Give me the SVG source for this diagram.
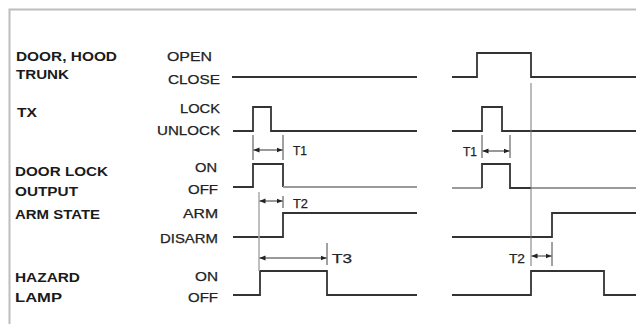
<svg xmlns="http://www.w3.org/2000/svg" width="636" height="324" viewBox="0 0 636 324">
<style>
.bg{fill:#ffffff}
.frame{fill:none;stroke:#bdbdbd;stroke-width:2}
.sig{fill:none;stroke:#333;stroke-width:1.8;stroke-linejoin:miter}
.lite{fill:none;stroke:#9a9a9a;stroke-width:2}
.guide{fill:none;stroke:#777;stroke-width:1}
.guide2{fill:none;stroke:#aaa;stroke-width:1.5}
.tick{fill:none;stroke:#444;stroke-width:1}
.dim{fill:none;stroke:#333;stroke-width:1;marker-start:url(#ah);marker-end:url(#ah)}
.name{font-family:"Liberation Sans",Arial,sans-serif;font-weight:bold;font-size:13.5px;fill:#1a1a1a}
.state{font-family:"Liberation Sans",Arial,sans-serif;font-size:13px;fill:#222;stroke:#222;stroke-width:0.25}
.t{font-family:"Liberation Sans",Arial,sans-serif;font-size:13px;fill:#222;stroke:#222;stroke-width:0.25}
</style>
<defs>
<marker id="ah" viewBox="0 0 6 6" refX="6" refY="3" markerWidth="6" markerHeight="6" markerUnits="userSpaceOnUse" orient="auto-start-reverse">
<path d="M0 0.6 L6 3 L0 5.4 Z" fill="#222"/>
</marker>
</defs>
<rect class="bg" x="0" y="0" width="636" height="324"/>
<path class="frame" d="M9.5 324 V9.5 H636"/>

<g id="door-hood-trunk">
<text class="name" x="16" y="61" textLength="101" lengthAdjust="spacingAndGlyphs">DOOR, HOOD</text>
<text class="name" x="16" y="79" textLength="53" lengthAdjust="spacingAndGlyphs">TRUNK</text>
<text class="state" x="167" y="61" textLength="45" lengthAdjust="spacingAndGlyphs">OPEN</text>
<text class="state" x="168" y="84" textLength="52" lengthAdjust="spacingAndGlyphs">CLOSE</text>
<path class="sig" d="M232 77 H417"/>
<path class="sig" d="M452 77 H477 V53 H531 V77 H636"/>
</g>

<g id="tx">
<text class="name" x="17" y="117" textLength="20" lengthAdjust="spacingAndGlyphs">TX</text>
<text class="state" x="180" y="113" textLength="40" lengthAdjust="spacingAndGlyphs">LOCK</text>
<text class="state" x="157" y="135" textLength="63" lengthAdjust="spacingAndGlyphs">UNLOCK</text>
<path class="sig" d="M233 131 H253 V107 H271 V131 H417"/>
<path class="sig" d="M452 131 H482 V107 H502 V131 H636"/>
</g>

<g id="door-lock-output">
<text class="name" x="15" y="176" textLength="93" lengthAdjust="spacingAndGlyphs">DOOR LOCK</text>
<text class="name" x="15" y="196" textLength="63" lengthAdjust="spacingAndGlyphs">OUTPUT</text>
<text class="state" x="195" y="172" textLength="22" lengthAdjust="spacingAndGlyphs">ON</text>
<text class="state" x="188" y="194" textLength="30" lengthAdjust="spacingAndGlyphs">OFF</text>
<path class="sig" d="M233 187 H253 V164 H283 V187"/>
<path class="lite" d="M283 187 H417"/>
<path class="lite" d="M452 188 H482"/>
<path class="sig" d="M482 188 V164 H510 V188 H531"/>
<path class="lite" d="M531 188 H636"/>
</g>

<g id="arm-state">
<text class="name" x="15" y="219" textLength="85" lengthAdjust="spacingAndGlyphs">ARM STATE</text>
<text class="state" x="183" y="218" textLength="35" lengthAdjust="spacingAndGlyphs">ARM</text>
<text class="state" x="160" y="243" textLength="58" lengthAdjust="spacingAndGlyphs">DISARM</text>
<path class="sig" d="M233 237 H283 V213 H417"/>
<path class="sig" d="M452 237 H552 V213 H636"/>
</g>

<g id="hazard-lamp">
<text class="name" x="15" y="282" textLength="65" lengthAdjust="spacingAndGlyphs">HAZARD</text>
<text class="name" x="15" y="302" textLength="47" lengthAdjust="spacingAndGlyphs">LAMP</text>
<text class="state" x="195" y="281" textLength="23" lengthAdjust="spacingAndGlyphs">ON</text>
<text class="state" x="188" y="302" textLength="30" lengthAdjust="spacingAndGlyphs">OFF</text>
<path class="sig" d="M233 295 H260 V271 H327 V295 H417"/>
<path class="sig" d="M452 295 H531 V271 H604 V295 H636"/>
</g>

<g id="connectors">
<path class="guide" d="M531 83 V266"/>
<path class="guide2" d="M259 192 V271"/>
<path class="tick" d="M253 135 V160 M283 135 V160"/>
<path class="tick" d="M482 135 V158 M510 135 V158"/>
<path class="tick" d="M283 196 V208"/>
<path class="tick" d="M327 243 V265"/>
<path class="tick" d="M552 242 V266"/>
<path class="dim" d="M253.5 150 H282.5"/>
<path class="dim" d="M482.5 151 H509.5"/>
<path class="dim" d="M259.5 201 H282.5"/>
<path class="dim" d="M259.5 258 H326.5"/>
<path class="dim" d="M531.5 256 H551.5"/>
<text class="t" x="293" y="155" textLength="14" lengthAdjust="spacingAndGlyphs">T1</text>
<text class="t" x="293" y="208" textLength="15" lengthAdjust="spacingAndGlyphs">T2</text>
<text class="t" x="332" y="263" textLength="20" lengthAdjust="spacingAndGlyphs">T3</text>
<text class="t" x="463" y="156" textLength="14" lengthAdjust="spacingAndGlyphs">T1</text>
<text class="t" x="509" y="263" textLength="16" lengthAdjust="spacingAndGlyphs">T2</text>
</g>
</svg>
